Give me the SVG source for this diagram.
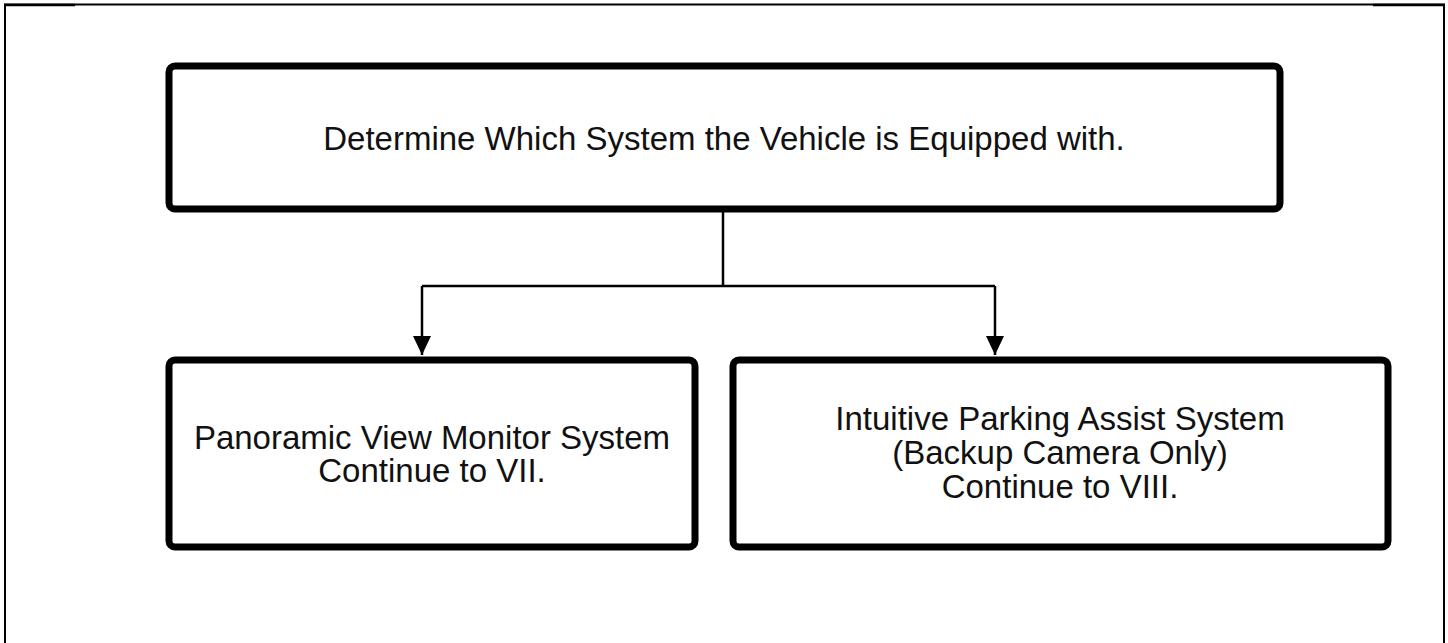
<svg xmlns="http://www.w3.org/2000/svg" width="1448" height="643" viewBox="0 0 1448 643">
<defs>
<style>
.box{fill:#fff;stroke:#000;stroke-width:7}
.t{font-family:"Liberation Sans",Arial,sans-serif;font-size:33px;fill:#111;text-anchor:middle}
.c{fill:none;stroke:#000;stroke-width:2.5}
</style>
<marker id="ah" markerUnits="userSpaceOnUse" markerWidth="20" markerHeight="30" refX="19" refY="9" orient="auto">
<path d="M0,0 L19,9 L0,18 Z" fill="#000"/>
</marker>
</defs>
<rect width="1448" height="643" fill="#fff"/>
<g id="frame" fill="none" stroke="#000">
<path d="M5,643 V4.5 H1444 V643" stroke-width="2"/>
<path d="M4,5 H75 M1373,5 H1445" stroke-width="2.5"/>
</g>
<g id="connectors">
<path class="c" d="M723,209 V286"/>
<path class="c" d="M422,286 H995"/>
<path class="c" d="M422,286 V355" marker-end="url(#ah)"/>
<path class="c" d="M995,286 V355" marker-end="url(#ah)"/>
</g>
<g id="n1">
<rect class="box" x="169" y="66" width="1111" height="143" rx="6"/>
<text class="t" x="724" y="150">Determine Which System the Vehicle is Equipped with.</text>
</g>
<g id="n2">
<rect class="box" x="169" y="360" width="526" height="187" rx="6"/>
<text class="t" x="432" y="449">Panoramic View Monitor System</text>
<text class="t" x="432" y="482">Continue to VII.</text>
</g>
<g id="n3">
<rect class="box" x="733" y="360" width="655" height="187" rx="6"/>
<text class="t" x="1060" y="430">Intuitive Parking Assist System</text>
<text class="t" x="1060" y="464">(Backup Camera Only)</text>
<text class="t" x="1060" y="498">Continue to VIII.</text>
</g>
</svg>
